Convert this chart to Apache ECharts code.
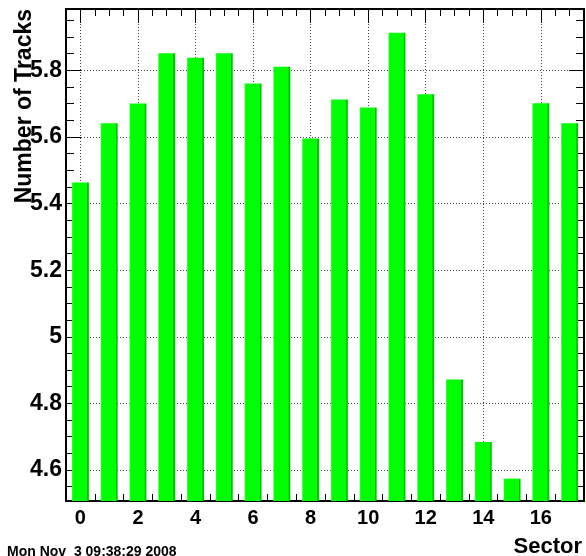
<!DOCTYPE html>
<html>
<head>
<meta charset="utf-8">
<script src="https://cdn.jsdelivr.net/npm/echarts@6/dist/echarts.min.js"></script>
<style>html,body{margin:0;padding:0;background:#fff;}#c{width:586px;height:556px;}</style>
</head>
<body>
<div id="c"></div>
<script>
// Data
var sectors = [0,1,2,3,4,5,6,7,8,9,10,11,12,13,14,15,16,17];
var tracks = [5.463,5.641,5.700,5.851,5.838,5.851,5.760,5.811,5.595,5.712,5.688,5.913,5.728,4.872,4.684,4.574,5.701,5.641];
var xMajorTicks = [0,2,4,6,8,10,12,14,16];
var xMinorTicks = [-0.5,0,0.5,1,1.5,2,2.5,3,3.5,4,4.5,5,5.5,6,6.5,7,7.5,8,8.5,9,9.5,10,10.5,11,11.5,12,12.5,13,13.5,14,14.5,15,15.5,16,16.5,17,17.5];
var yMajorTicks = [4.6,4.8,5,5.2,5.4,5.6,5.8];
var yMinorTicks = [4.55,4.6,4.65,4.7,4.75,4.8,4.85,4.9,4.95,5,5.05,5.1,5.15,5.2,5.25,5.3,5.35,5.4,5.45,5.5,5.55,5.6,5.65,5.7,5.75,5.8,5.85,5.9,5.95];
var xTitle = 'Sector';
var yTitle = 'Number of Tracks';
var dateText = 'Mon Nov  3 09:38:29 2008';

var X_MIN = -0.5, X_MAX = 17.5, Y_MIN = 4.507, Y_MAX = 5.984;
var FONT = 'Liberation Sans';

function xAxisDef(pos, ticks, len, labels, split) {
  return {
    type: 'value', position: pos, min: X_MIN, max: X_MAX,
    axisLine: {show: false, onZero: false},
    axisTick: {show: true, inside: true, length: len, customValues: ticks, lineStyle: {color: '#000', width: 1}},
    axisLabel: labels ? {show: true, customValues: ticks, margin: 7, color: '#000', fontFamily: FONT, fontWeight: 'bold', fontSize: 20} : {show: false},
    splitLine: split ? {show: true, lineStyle: {color: '#444', type: [1, 2], width: 1}} : {show: false}
  };
}
function yAxisDef(pos, ticks, len, labels, split) {
  return {
    type: 'value', position: pos, min: Y_MIN, max: Y_MAX,
    axisLine: {show: false, onZero: false},
    axisTick: {show: true, inside: true, length: len, customValues: ticks, lineStyle: {color: '#000', width: 1}},
    axisLabel: labels ? {show: true, customValues: ticks, margin: 4, color: '#000', fontFamily: FONT, fontWeight: 'bold', fontSize: 23} : {show: false},
    splitLine: split ? {show: true, lineStyle: {color: '#444', type: [1, 2], width: 1}} : {show: false}
  };
}

var chart = echarts.init(document.getElementById('c'), null, {renderer: 'canvas'});
chart.setOption({
  animation: false,
  backgroundColor: '#fff',
  grid: {left: 66, right: 2, top: 9, bottom: 55, show: true, borderColor: '#000', borderWidth: 2, backgroundColor: 'transparent'},
  xAxis: [
    xAxisDef('bottom', xMajorTicks, 14, true, true),
    xAxisDef('bottom', xMinorTicks, 7, false, false),
    xAxisDef('top', xMajorTicks, 14, false, false),
    xAxisDef('top', xMinorTicks, 7, false, false)
  ],
  yAxis: [
    yAxisDef('left', yMajorTicks, 15, true, true),
    yAxisDef('left', yMinorTicks, 8, false, false),
    yAxisDef('right', yMajorTicks, 15, false, false),
    yAxisDef('right', yMinorTicks, 8, false, false)
  ],
  series: [{
    type: 'bar',
    xAxisIndex: 0, yAxisIndex: 0,
    barWidth: 17,
    clip: true,
    data: sectors.map(function (s, i) { return [s, tracks[i]]; }),
    itemStyle: {
      color: new echarts.graphic.LinearGradient(0, 0, 1, 0, [
        {offset: 0, color: '#55ff55'},
        {offset: 0.07, color: '#00ff00'},
        {offset: 0.88, color: '#00ff00'},
        {offset: 0.9, color: '#00c800'},
        {offset: 1, color: '#00c800'}
      ])
    }
  }],
  graphic: [
    {type: 'text', x: 582, y: 536, style: {text: xTitle, align: 'right', verticalAlign: 'top', fill: '#000', font: 'bold 22px "Liberation Sans"'}},
    {type: 'text', x: 25, y: 9, rotation: Math.PI / 2, style: {text: yTitle, align: 'right', verticalAlign: 'middle', fill: '#000', font: 'bold 23px "Liberation Sans"'}},
    {type: 'text', x: 7, y: 545, style: {text: dateText, align: 'left', verticalAlign: 'top', fill: '#000', font: 'bold 14px "Liberation Sans"'}}
  ]
});
</script>
</body>
</html>
